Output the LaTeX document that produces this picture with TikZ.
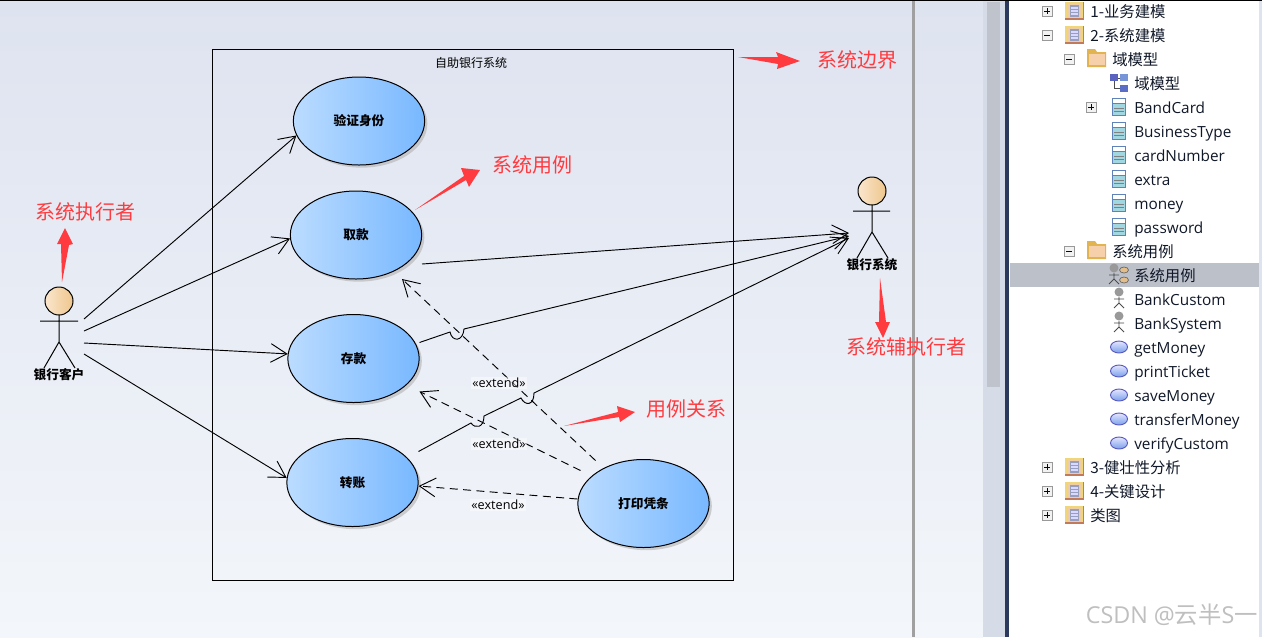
\documentclass[tikz,border=0pt]{standalone}
\usepackage{fontspec}
\setmainfont{Noto Sans CJK SC}
\newfontfamily\latinfont{Open Sans}
\usetikzlibrary{arrows.meta,shapes.geometric,shadows}
\definecolor{redmark}{HTML}{FF3B3F}
\definecolor{ucleft}{HTML}{BBDCFF}
\definecolor{ucright}{HTML}{78B8FF}
\definecolor{treetext}{HTML}{101828}
\tikzset{
  usecase/.style={ellipse,draw=black,line width=.75pt,inner sep=0pt,minimum width=98.5pt,minimum height=66pt,
    left color=ucleft,right color=ucright,drop shadow={shadow xshift=2pt,shadow yshift=-2pt,fill=gray!60,opacity=.6},
    font=\fontsize{9.5pt}{11pt}\selectfont\bfseries},
  actorbox/.style={inner sep=0pt,minimum width=30pt,minimum height=60pt},
  actorline/.style={line width=.75pt,black},
  actorname/.style={inner sep=0pt,font=\fontsize{9.5pt}{11pt}\selectfont\bfseries},
  flow/.style={line width=.7pt,-{Straight Barb[length=12pt,width=14pt,line width=.7pt]}},
  extendflow/.style={line width=.7pt,dash pattern=on 6pt off 4pt,-{Straight Barb[length=12pt,width=14pt,line width=.7pt]}},
  stereo/.style={inner sep=1pt,fill=white,fill opacity=.45,text opacity=1,font=\fontsize{9.5pt}{11pt}\selectfont\latinfont},
  note/.style={inner sep=0pt,text=redmark,font=\fontsize{15pt}{18pt}\selectfont},
  markarrow/.style={fill=redmark,draw=none},
  treelabel/.style={anchor=base west,inner sep=0pt,text=treetext,font=\fontsize{11.5pt}{14pt}\selectfont},
  treelatin/.style={anchor=base west,inner sep=0pt,text=treetext,font=\fontsize{11.5pt}{14pt}\selectfont\latinfont},
}
% expander box: #1 x, #2 y, #3 = 1 for plus
\newcommand{\expbox}[3]{%
  \draw[draw=gray!80,fill=gray!10,line width=.5pt] (#1-5,#2-5) rectangle (#1+5,#2+5);
  \draw[draw=black!70!blue,line width=.5pt] (#1-3,#2) -- (#1+3,#2);
  \ifnum#3=1 \draw[draw=black!70!blue,line width=.5pt] (#1,#2-3) -- (#1,#2+3);\fi}
\newcommand{\pkgicon}[2]{%
  \fill[fill={rgb,255:red,196;green,122;blue,88}] (#1-10,#2-9) rectangle (#1+9,#2+9);
  \fill[fill={rgb,255:red,240;green,214;blue,120}] (#1-10,#2-9) rectangle (#1+8,#2+7);
  \fill[fill={rgb,255:red,238;green,205;blue,165}] (#1-8,#2-7) rectangle (#1+7,#2+7);
  \fill[fill={rgb,255:red,150;green,160;blue,190}] (#1-5,#2-6) rectangle (#1+4,#2+6);
  \fill[white!85!blue] (#1-4,#2-4) rectangle (#1+3,#2-2);
  \fill[white!85!blue] (#1-4,#2-1) rectangle (#1+3,#2+1);
  \fill[white!85!blue] (#1-4,#2+2) rectangle (#1+3,#2+4);}
\newcommand{\foldericon}[2]{%
  \fill[fill={rgb,255:red,225;green,180;blue,80}] (#1-10,#2-10) -- (#1-2,#2-10) -- (#1,#2-7) -- (#1+9,#2-7) -- (#1+9,#2+8) -- (#1-10,#2+8) -- cycle;
  \fill[fill={rgb,255:red,246;green,208;blue,170}] (#1-8,#2-5) rectangle (#1+8,#2+6);}
\newcommand{\classicon}[2]{%
  \fill[fill={rgb,255:red,95;green,130;blue,185}] (#1-7,#2-9) rectangle (#1+7,#2+9);
  \fill[white] (#1-6,#2-8) rectangle (#1+6,#2-4);
  \fill[fill={rgb,255:red,160;green,215;blue,225}] (#1-6,#2-3) rectangle (#1+6,#2+8);
  \draw[draw=gray,line width=.4pt] (#1-5,#2+1) -- (#1+5,#2+1) (#1-5,#2+4) -- (#1+5,#2+4);}
\newcommand{\caseicon}[2]{%
  \draw[draw={rgb,255:red,90;green,90;blue,190},line width=.7pt,top color=blue!10,bottom color={rgb,255:red,120;green,160;blue,235}] (#1,#2) ellipse (8.5 and 6);}
\newcommand{\personicon}[2]{%
  \fill[gray!80] (#1,#2-7) circle (4.5);
  \draw[gray!60!black,line width=.6pt] (#1,#2-2) -- (#1,#2+4) (#1-5,#2) -- (#1+5,#2) (#1-5,#2+9) -- (#1,#2+4) -- (#1+5,#2+9);}
\begin{document}
\begin{tikzpicture}[x=.75pt,y=-.75pt]
\useasboundingbox (0,0) rectangle (1262,637);
% window background
\fill[white] (0,0) rectangle (1262,637);
\shade[top color={rgb,255:red,222;green,227;blue,240},bottom color={rgb,255:red,243;green,246;blue,250}] (0,0) rectangle (983,637);
\fill[fill={rgb,255:red,214;green,219;blue,232}] (983,0) rectangle (1005,637);
\fill[fill={rgb,255:red,190;green,195;blue,204}] (987,2) rectangle (1000,387);
\fill[fill={rgb,255:red,43;green,58;blue,92}] (1005,0) rectangle (1009,637);
\fill[fill={rgb,255:red,222;green,227;blue,240}] (1259,0) rectangle (1262,637);
\fill[fill={rgb,255:red,160;green,160;blue,160}] (912,0) rectangle (915,637);
\fill[black] (0,0) rectangle (1262,1);
% system boundary
\node[draw=black,line width=.7pt,inner sep=0pt,minimum width=391pt,minimum height=398pt] (boundary) at (472.8,315) {};
\node[inner sep=0pt,font=\fontsize{9pt}{11pt}\selectfont] (boundarytitle) at (471,62.5) {自助银行系统};
% use cases
\node[usecase] (verify) at (359,121) {验证身份};
\node[usecase] (withdraw) at (356,235) {取款};
\node[usecase] (deposit) at (353.5,358.5) {存款};
\node[usecase] (transfer) at (352.5,482.5) {转账};
\node[usecase] (ticket) at (643.5,503.5) {打印凭条};
% actors
\node[actorbox] (customer) at (59,328) {};
\draw[actorline,left color={rgb,255:red,250;green,230;blue,205},right color={rgb,255:red,238;green,198;blue,140}] (59,301) circle (14);
\draw[actorline] (59,315) -- (59,342) (40,321) -- (78,321) (44,368) -- (59,342) -- (75,368);
\node[actorname] (customername) at (59,375) {银行客户};
\node[actorbox] (banksys) at (872,218) {};
\draw[actorline,left color={rgb,255:red,250;green,230;blue,205},right color={rgb,255:red,238;green,198;blue,140}] (872,191) circle (14);
\draw[actorline] (872,205) -- (872,232) (853,211) -- (890,211) (857,258) -- (872,232) -- (888,258);
\node[actorname] (banksysname) at (872,265) {银行系统};
% customer associations
\draw[flow] ([shift={(25,-9)}]customer.center) -- (verify.193);
\draw[flow] ([shift={(25,3)}]customer.center) -- (withdraw.183);
\draw[flow] ([shift={(25,15)}]customer.center) -- (deposit.176);
\draw[flow] ([shift={(25,26)}]customer.center) -- (transfer.176);
% bank system associations
\draw[flow] ([shift={(66,29)}]withdraw.center) -- ([shift={(-23,15)}]banksys.center);
\draw[flow] ([shift={(66,-16)}]deposit.center) -- (450,332) .. controls (452,342) and (463,342) .. (464,329) -- ([shift={(-23,18)}]banksys.center);
\draw[flow] ([shift={(66,-31)}]transfer.center) -- (471,423) .. controls (475,429) and (484,428) .. (484,416)
  -- (521,398) .. controls (525,406) and (534,406) .. (534,393) -- ([shift={(-23,20)}]banksys.center);
% extend
\draw[extendflow] ([shift={(-48,-43)}]ticket.center) -- ([shift={(46,44)}]withdraw.center);
\draw[extendflow] ([shift={(-63,-33)}]ticket.center) -- ([shift={(66,33)}]deposit.center);
\draw[extendflow] (ticket.west |- 0,499) -- (transfer.east |- 0,486);
\node[stereo] (ext1) at (499,383) {«extend»};
\node[stereo] (ext2) at (499,444) {«extend»};
\node[stereo] (ext3) at (498,505) {«extend»};
% red annotations
\fill[markarrow] (738,57) -- (778,57) -- (776,52) -- (800,61) -- (777,69) -- (778,64) -- cycle;
\node[note] (noteboundary) at (857,60) {系统边界};
\fill[markarrow] (415,210) -- (464,176) -- (461,168) -- (480,170) -- (469,187) -- (466,180) -- cycle;
\node[note] (noteusecase) at (532,165) {系统用例};
\fill[markarrow] (62,282) -- (61,244) -- (57,244) -- (65,228) -- (73,244) -- (69,245) -- cycle;
\node[note] (noteactor) at (85,212) {系统执行者};
\fill[markarrow] (880,278) -- (879,322) -- (875,322) -- (883,338) -- (890,322) -- (886,322) -- cycle;
\node[note] (notesecondary) at (906,347) {系统辅执行者};
\fill[markarrow] (564,426) -- (618,412) -- (617,406) -- (635,412) -- (620,422) -- (619,417) -- cycle;
\node[note] (noterelation) at (686,409) {用例关系};
% tree
\fill[fill={rgb,255:red,188;green,192;blue,201}] (1010,263) rectangle (1259,287);
\expbox{1047}{11}{1}\pkgicon{1075}{11}\node[treelabel] (t1) at (1090,17.5) {1-业务建模};
\expbox{1047}{35}{0}\pkgicon{1075}{35}\node[treelabel] (t2) at (1090,41.5) {2-系统建模};
\expbox{1069}{59}{0}\foldericon{1097}{59}\node[treelabel] (t3) at (1112,65.5) {域模型};
\fill[fill={rgb,255:red,90;green,100;blue,190}] (1110,74) rectangle (1118,81);
\fill[fill={rgb,255:red,120;green,150;blue,215}] (1120,74) rectangle (1128,81);
\fill[fill={rgb,255:red,90;green,110;blue,200}] (1120,85) rectangle (1128,92);
\draw[line width=.6pt,black!70] (1118,78) -- (1120,78) (1114,81) |- (1120,88);
\node[treelabel] (t4) at (1134,89.5) {域模型};
\expbox{1091}{107}{1}\classicon{1119}{107}\node[treelatin] (t5) at (1134,113) {BandCard};
\classicon{1119}{131}\node[treelatin] (t6) at (1134,137) {BusinessType};
\classicon{1119}{155}\node[treelatin] (t7) at (1134,161) {cardNumber};
\classicon{1119}{179}\node[treelatin] (t8) at (1134,185) {extra};
\classicon{1119}{203}\node[treelatin] (t9) at (1134,209) {money};
\classicon{1119}{227}\node[treelatin] (t10) at (1134,233) {password};
\expbox{1069}{251}{0}\foldericon{1097}{251}\node[treelabel] (t11) at (1112,257.5) {系统用例};
\personicon{1114}{275}
\draw[draw=black!60,fill={rgb,255:red,225;green,190;blue,140},line width=.5pt] (1124,270) ellipse (4.5 and 3) (1124,280) ellipse (4.5 and 3);
\node[treelabel] (t12) at (1134,281.5) {系统用例};
\personicon{1119}{299}\node[treelatin] (t13) at (1134,305) {BankCustom};
\personicon{1119}{323}\node[treelatin] (t14) at (1134,329) {BankSystem};
\caseicon{1119}{347}\node[treelatin] (t15) at (1134,353) {getMoney};
\caseicon{1119}{371}\node[treelatin] (t16) at (1134,377) {printTicket};
\caseicon{1119}{395}\node[treelatin] (t17) at (1134,401) {saveMoney};
\caseicon{1119}{419}\node[treelatin] (t18) at (1134,425) {transferMoney};
\caseicon{1119}{443}\node[treelatin] (t19) at (1134,449) {verifyCustom};
\expbox{1047}{467}{1}\pkgicon{1075}{467}\node[treelabel] (t20) at (1090,473.5) {3-健壮性分析};
\expbox{1047}{491}{1}\pkgicon{1075}{491}\node[treelabel] (t21) at (1090,497.5) {4-关键设计};
\expbox{1047}{515}{1}\pkgicon{1075}{515}\node[treelabel] (t22) at (1090,521.5) {类图};
\node[anchor=east,inner sep=0pt,text=gray!50,font=\fontsize{17.5pt}{20pt}\selectfont] (watermark) at (1258,615) {\latinfont CSDN @\rmfamily 云半\latinfont S\rmfamily 一};
\end{tikzpicture}
\end{document}
